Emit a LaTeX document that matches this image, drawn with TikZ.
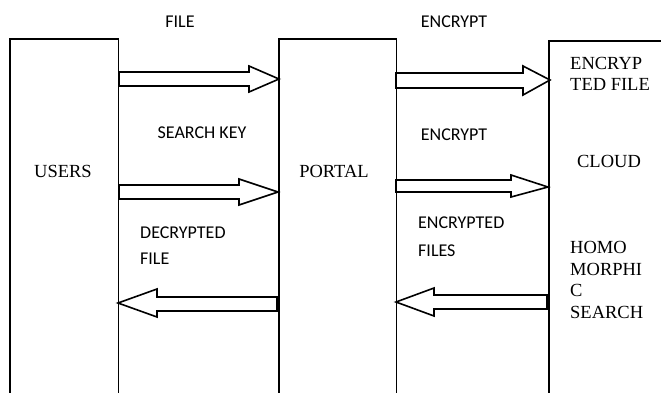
\documentclass[tikz,border=0pt]{standalone}
\usepackage{fontspec}
\setmainfont{Liberation Serif}
\newfontfamily\calfont{Carlito}
\tikzset{
  boxline/.style={line width=1.6pt, line join=miter},
  blockarr/.style={draw, line width=1.6pt, line join=miter, fill=white},
  seriflabel/.style={font=\fontsize{18.5}{21.5}\selectfont, inner sep=0pt, align=left},
  sanslabel/.style={font=\calfont\fontsize{18}{26}\selectfont, inner sep=0pt, align=left},
  area/.style={draw=none, inner sep=0pt, anchor=north west}
}
% right-pointing block arrow: xs, xb, xt, shaft top, shaft bottom, head top, head bottom, tip y
\newcommand{\blockR}[8]{\draw[blockarr] (#1,#4) -- (#2,#4) -- (#2,#6) -- (#3,#8) -- (#2,#7) -- (#2,#5) -- (#1,#5) -- cycle;}
\begin{document}
\begin{tikzpicture}[x=1pt,y=-1pt]
\useasboundingbox (0,0) rectangle (661,392);
\fill[white] (0,0) rectangle (661,392);
% boxes
\node[area, minimum width=108pt, minimum height=370pt] (users) at (10,39) {};
\node[area, minimum width=117pt, minimum height=370pt] (portal) at (279,39) {};
\node[area, minimum width=120pt, minimum height=370pt] (cloud) at (549,41) {};
\draw[boxline] (users.south west) -- (users.north west) -- (users.north east) -- (users.south east);
\draw[boxline] (portal.south west) -- (portal.north west) -- (portal.north east) -- (portal.south east);
\draw[boxline] (cloud.south west) -- (cloud.north west) -- (cloud.north east) -- (cloud.south east);
% arrows users -> portal
\blockR{119}{249}{279}{72}{86}{66}{92}{79}
\blockR{119}{239}{278}{185}{199}{179}{205}{192}
% arrows portal -> cloud
\blockR{396}{523}{550}{73}{88}{66}{95}{80}
\blockR{396}{511}{548}{180}{192}{175}{197}{187}
% arrows leftwards
\blockR{277}{157}{118}{297}{311}{289}{317}{303}
\blockR{547}{434}{396}{295}{309}{288}{316}{302}
% labels
\node[seriflabel] (usersl) at (63,171) {USERS};
\node[seriflabel] (portall) at (334,171) {PORTAL};
\node[seriflabel] (cloudl) at (609,161) {CLOUD};
\node[seriflabel, anchor=west] (encf) at (570,74) {ENCRYP\\TED FILE};
\node[seriflabel, anchor=west] (homo) at (570,280) {HOMO\\MORPHI\\C\\SEARCH};
\node[sanslabel] (filel) at (180,22) {FILE};
\node[sanslabel] (skey) at (202,133) {SEARCH KEY};
\node[sanslabel] (enc1) at (454,22) {ENCRYPT};
\node[sanslabel] (enc2) at (454,135) {ENCRYPT};
\node[sanslabel, anchor=west] (decf) at (140,246) {DECRYPTED\\FILE};
\node[sanslabel, anchor=west, font=\calfont\fontsize{18}{28}\selectfont] (encfs) at (418,237) {ENCRYPTED\\FILES};
\end{tikzpicture}
\end{document}
